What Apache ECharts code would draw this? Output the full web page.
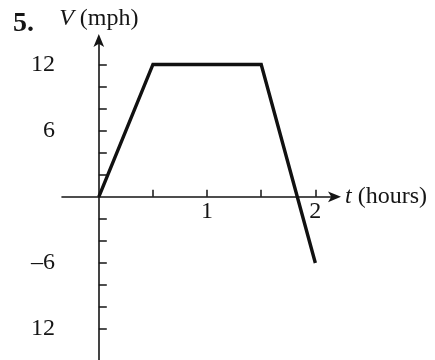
<!DOCTYPE html>
<html>
<head>
<meta charset="utf-8">
<script src="https://cdn.jsdelivr.net/npm/echarts@6/dist/echarts.min.js"></script>
<style>
  html, body { margin: 0; padding: 0; background: #fff; }
  #chart { width: 435px; height: 360px; }
</style>
</head>
<body>
<div id="chart"></div>
<script>
// Velocity profile: time in hours, velocity in mph
const timeHours = [0, 0.5, 1.5, 2];
const velocityMph = [0, 12, 12, -6];

// Axis ticks and labels
const xTickValues = [0.5, 1, 1.5, 2];
const xLabelValues = [1, 2];
const xLabelTexts = ['1', '2'];
const yTickValues = [12, 10, 8, 6, 4, 2, -2, -4, -6, -8, -10, -12];
const yLabelValues = [12, 6, -6, -12];
const yLabelTexts = ['12', '6', '\u20136', '12'];

const FONT = 'Liberation Serif';
const INK = '#151515';
const FS = 24;

const chart = echarts.init(document.getElementById('chart'));

const points = timeHours.map((t, i) => [t, velocityMph[i]]);
// x tick labels sit just under the horizontal axis (V = 0)
const xLabelPoints = xLabelValues.map((t, i) => ({ value: [t, 0], label: { formatter: xLabelTexts[i] } }));

chart.setOption({
  animation: false,
  backgroundColor: '#fff',
  title: {
    text: '5.',
    left: 8,
    top: 5,
    textStyle: { fontFamily: FONT, fontSize: 28, fontWeight: 'bold', color: INK }
  },
  grid: { left: 62, right: 98, top: 38, bottom: 0, containLabel: false, outerBoundsMode: 'none' },
  xAxis: {
    type: 'value',
    min: -0.34,
    max: 2.2,
    name: '{i|t} (hours)',
    nameLocation: 'end',
    nameGap: 8,
    nameTextStyle: {
      fontFamily: FONT, fontSize: FS, color: INK, verticalAlign: 'middle',
      rich: { i: { fontFamily: FONT, fontSize: FS, fontStyle: 'italic', color: INK } }
    },
    axisLine: {
      onZero: true,
      lineStyle: { color: INK, width: 1.6 },
      symbol: ['none', 'arrow'],
      symbolSize: [8, 13],
      symbolOffset: [0, 4]
    },
    axisTick: { show: true, inside: true, length: 7, customValues: xTickValues, lineStyle: { color: INK, width: 1.5 } },
    axisLabel: { show: false },
    splitLine: { show: false }
  },
  yAxis: {
    type: 'value',
    min: -14.8,
    max: 14.4,
    name: '{i|V} (mph)',
    nameLocation: 'end',
    nameGap: 7,
    nameTextStyle: {
      fontFamily: FONT, fontSize: FS, color: INK, align: 'center',
      rich: { i: { fontFamily: FONT, fontSize: FS, fontStyle: 'italic', color: INK } }
    },
    axisLine: {
      onZero: true,
      lineStyle: { color: INK, width: 1.6 },
      symbol: ['none', 'arrow'],
      symbolSize: [8, 13],
      symbolOffset: [0, 4]
    },
    axisTick: { show: true, inside: true, length: 8, customValues: yTickValues, lineStyle: { color: INK, width: 1.5 } },
    axisLabel: {
      customValues: yLabelValues,
      margin: 7,
      fontFamily: FONT, fontSize: FS, color: INK,
      formatter: v => yLabelTexts[yLabelValues.indexOf(v)] ?? ''
    },
    splitLine: { show: false }
  },
  series: [{
    type: 'line',
    data: points,
    symbol: 'none',
    lineStyle: { color: '#111', width: 3.4, join: 'miter' },
    clip: false,
    z: 3
  }, {
    type: 'scatter',
    data: xLabelPoints,
    symbolSize: 0,
    silent: true,
    itemStyle: { opacity: 1 },
    label: {
      show: true,
      position: 'bottom',
      distance: 3,
      fontFamily: FONT, fontSize: FS, color: INK, opacity: 1
    },
    z: 2
  }]
});
</script>
</body>
</html>
